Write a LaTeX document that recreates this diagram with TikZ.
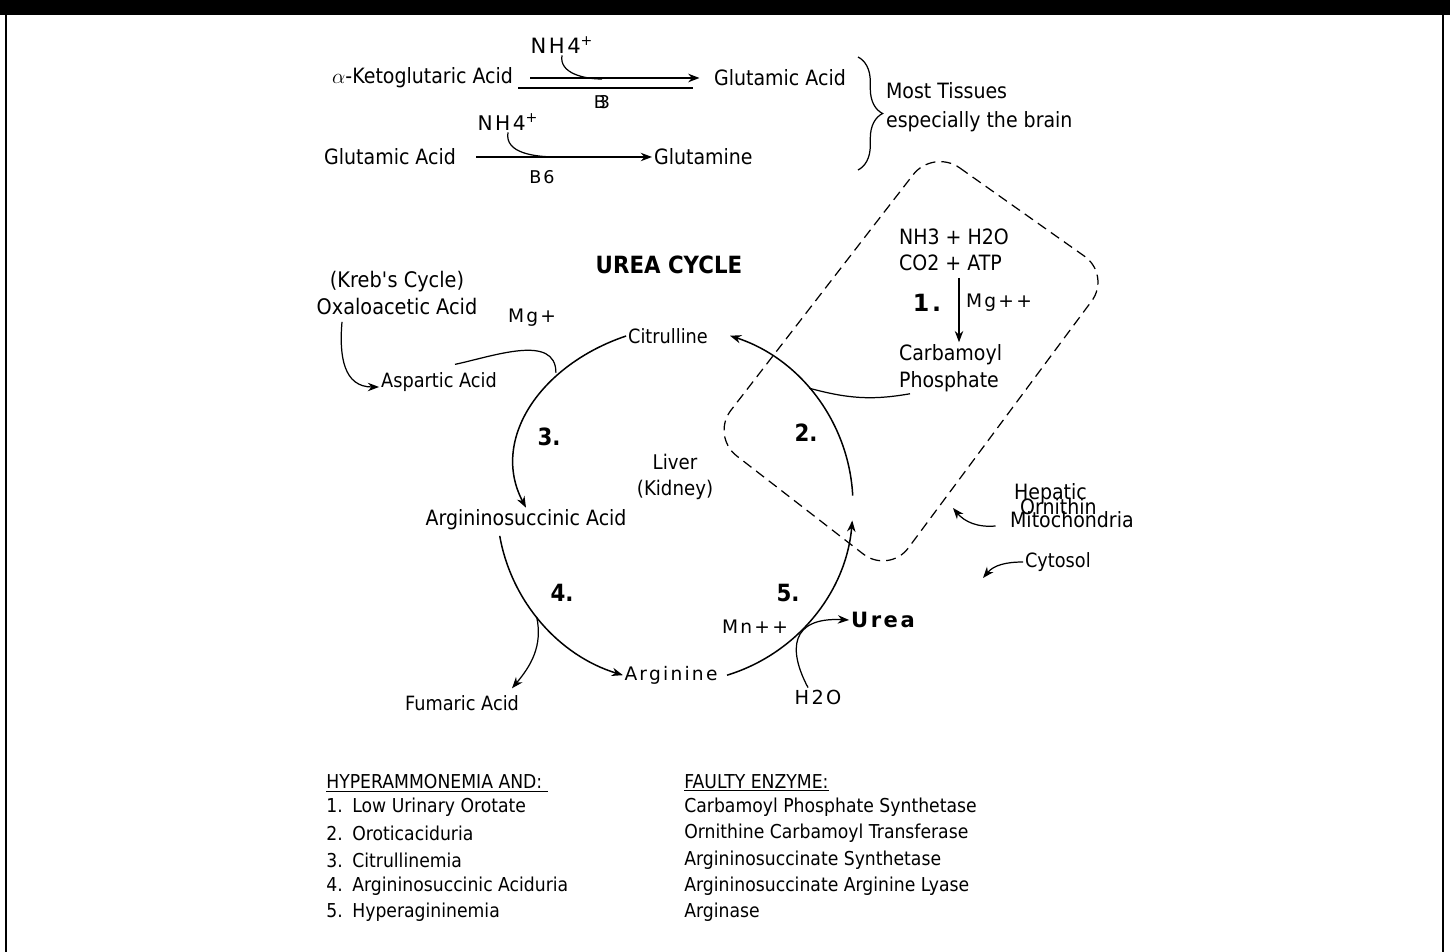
\documentclass[tikz,border=0pt]{standalone}
\usepackage{fontspec}
\setmainfont{DejaVu Sans}[FakeStretch=0.9]
\newfontfamily\spfont{DejaVu Sans}[LetterSpace=12]
\usetikzlibrary{arrows.meta,decorations.pathreplacing}

\begin{document}
\begin{tikzpicture}[x=0.02cm, y=-0.02cm,
	>={Stealth[length=6.4pt,width=4.8pt]},
	lbl/.style={inner sep=1pt, font=\fontsize{12}{14}\selectfont},
	sml/.style={inner sep=1pt, font=\fontsize{11.2}{14}\selectfont},
	spc/.style={inner sep=1pt, font=\spfont\fontsize{#1}{14}\selectfont},
	spc/.default=10.6,
	num/.style={inner sep=1pt, font=\bfseries\fontsize{13.5}{16}\selectfont},
	lst/.style={inner sep=0pt, anchor=west, font=\fontsize{10.9}{13}\selectfont},
	conn/.style={line width=0.7pt},
	cyc/.style={line width=0.85pt, ->}]
	
	\fill[black] (0,0) rectangle (1450,15);
	\fill[black] (4.5,15) rectangle (6.8,952);
	\fill[black] (1441.7,15) rectangle (1444,952);
	\useasboundingbox (0,0) rectangle (1450,952);
	
	\node[lbl, anchor=east] (akg) at (515,78) {$\alpha$-Ketoglutaric Acid};
	\node[lbl, anchor=west] (glu) at (712,78) {Glutamic Acid};
	\node[spc=12] (nha) at (562,45) {NH4\textsuperscript{+}};
	\node[spc=10] (bthree) at (602,102) {B\kern-4pt3};
	\coordinate (ja) at (602,79);
	\draw[line width=1.6pt, ->, shorten <=0.3cm, shorten >=0.25cm] (akg.east) -- (glu.west);
	\draw[line width=0.6pt] (518,88) -- (693,88);
	\draw[conn] (nha.south) to[out=-100, in=180] (ja);
	
	\node[lbl, anchor=east] (glb) at (458,157) {Glutamic Acid};
	\node[lbl, anchor=west] (gln) at (652,157) {Glutamine};
	\node[spc=11.5] (nhb) at (508,122) {NH4\textsuperscript{+}};
	\node[spc=10] (bsix) at (542,177) {B6};
	\coordinate (jb) at (557,157);
	\draw[conn, ->, shorten <=0.36cm] (glb.east) -- (gln.west);
	\draw[conn] (nhb.south) to[out=-100, in=180] (jb);
	
	\draw[conn, decorate, decoration={brace, amplitude=14pt}] (858,57) -- (858,170);
	\node[lbl, anchor=west, align=left, font=\fontsize{12}{16.4}\selectfont] (tis) at (884,107) {Most Tissues\\especially the brain};
	
	\draw[line width=0.7pt, dash pattern=on 5.7pt off 3.4pt, rounded corners=0.65cm] (933,149) -- (1111,275) -- (889,574) -- (711,436) -- cycle;
	
	\node[lbl, anchor=west, align=left, font=\fontsize{12}{14.7}\selectfont] (nh3) at (897,250) {NH3 + H2O\\CO2 + ATP};
	\node[lbl, anchor=west, align=left, font=\fontsize{12}{15.3}\selectfont] (cp) at (897,368) {Carbamoyl\\Phosphate};
	\node[num, font=\spfont\bfseries\fontsize{13.5}{16}\selectfont] (n1) at (927,303) {1.};
	\node[spc, anchor=west] (mgpp) at (964,303) {Mg++};
	\coordinate (k1) at (959,0);
	\draw[conn, ->, shorten <=0.1cm] (nh3.south -| k1) -- (cp.north -| k1);
	
	\node[num, font=\bfseries\fontsize{13.5}{16}\selectfont] (ttl) at (669,265) {UREA CYCLE};
	\coordinate (ctr) at (675,505);
	\node[sml] (cit) at (668,336) {Citrulline};
	\node[lbl] (asa) at (526,520) {Argininosuccinic Acid};
	\node[spc] (arg) at (671,675) {Arginine};
	\node[sml, align=center, font=\fontsize{11.5}{14.7}\selectfont] (liv) at (675,477) {Liver\\(Kidney)};
	\draw[cyc] ([shift={(3:3.56cm)}]ctr) arc[start angle=3, end angle=72, radius=3.56cm];
	\draw[cyc] (cit.west) .. controls (540,365) and (490,440) .. (asa.north);
	\draw[cyc] ([shift={(190:3.56cm)}]ctr) arc[start angle=190, end angle=253, radius=3.56cm];
	\draw[cyc] ([shift={(287:3.56cm)}]ctr) arc[start angle=287, end angle=355, radius=3.56cm];
	
	\coordinate (jcp) at ([shift={(41:3.56cm)}]ctr);
	\draw[conn] ([xshift=0.26cm]cp.south west) to[out=190, in=-15] (jcp);
	
	\node[lbl, align=center, font=\fontsize{12.2}{15.3}\selectfont] (oxa) at (397,293) {(Kreb\textquotesingle s Cycle)\\Oxaloacetic Acid};
	\node[sml] (asp) at (439,382) {Aspartic Acid};
	\node[spc] (mgp) at (532,318) {Mg+};
	\coordinate (jasp) at ([shift={(132:3.56cm)}]ctr);
	\draw[conn, ->] ([xshift=-1.1cm, yshift=-0.1cm]oxa.south) to[out=-95, in=180, looseness=1.2] ([yshift=-0.1cm]asp.west);
	\draw[conn] ([xshift=0.32cm, yshift=0.12cm]asp.north) to[out=12, in=90] (jasp);
	
	\node[sml] (fum) at (462,703) {Fumaric Acid};
	\coordinate (jfum) at ([shift={(219:3.56cm)}]ctr);
	\draw[conn, ->] (jfum) to[out=-78, in=50] ([xshift=-0.18cm, yshift=0.1cm]fum.north east);
	
	\node[spc=11] (h2o) at (818,697) {H2O};
	\node[spc] (mnpp) at (755,627) {Mn++};
	\node[num, font=\spfont\bfseries\fontsize{12}{15}\selectfont] (urea) at (883,620) {Urea};
	\draw[conn, ->] ([xshift=-0.2cm]h2o.north) .. controls (788,650) and (790,617) .. (urea.west);
	
	\node[num] (n2) at (806,433) {2.};
	\node[num] (n3) at (549,437) {3.};
	\node[num] (n4) at (562,593) {4.};
	\node[num] (n5) at (788,593) {5.};
	
	\node[lbl, anchor=west] (hep) at (1012,494) {Hepatic};
	\node[lbl, anchor=west] (orn) at (1018,507) {Ornithin};
	\node[lbl, anchor=west] (mito) at (1008,520) {Mitochondria};
	\coordinate (hp) at (953,508);
	\draw[conn, ->] ([xshift=-0.25cm, yshift=-0.12cm]mito.west) to[out=185, in=-50] (hp);
	\node[sml, anchor=west] (cyt) at (1023,562) {Cytosol};
	\coordinate (cy) at (983,578);
	\draw[conn, ->] (cyt.west) to[out=180, in=50] (cy);
	
	\node[lst] (hyp) at (326,783) {\underline{HYPERAMMONEMIA AND:\ }};
	\node[lst] (dis1) at (326,807) {1.\hspace{0.5em}Low Urinary Orotate};
	\node[lst] (dis2) at (326,833) {2.\hspace{0.5em}Oroticaciduria};
	\node[lst] (dis3) at (326,860) {3.\hspace{0.5em}Citrullinemia};
	\node[lst] (dis4) at (326,886) {4.\hspace{0.5em}Argininosuccinic Aciduria};
	\node[lst] (dis5) at (326,912) {5.\hspace{0.5em}Hyperagininemia};
	
	\node[lst] (fty) at (684,783) {\underline{FAULTY ENZYME:}};
	\node[lst] (enz1) at (684,807) {Carbamoyl Phosphate Synthetase};
	\node[lst] (enz2) at (684,833) {Ornithine Carbamoyl Transferase};
	\node[lst] (enz3) at (684,860) {Argininosuccinate Synthetase};
	\node[lst] (enz4) at (684,886) {Argininosuccinate Arginine Lyase};
	\node[lst] (enz5) at (684,912) {Arginase};
	
\end{tikzpicture}
\end{document}
